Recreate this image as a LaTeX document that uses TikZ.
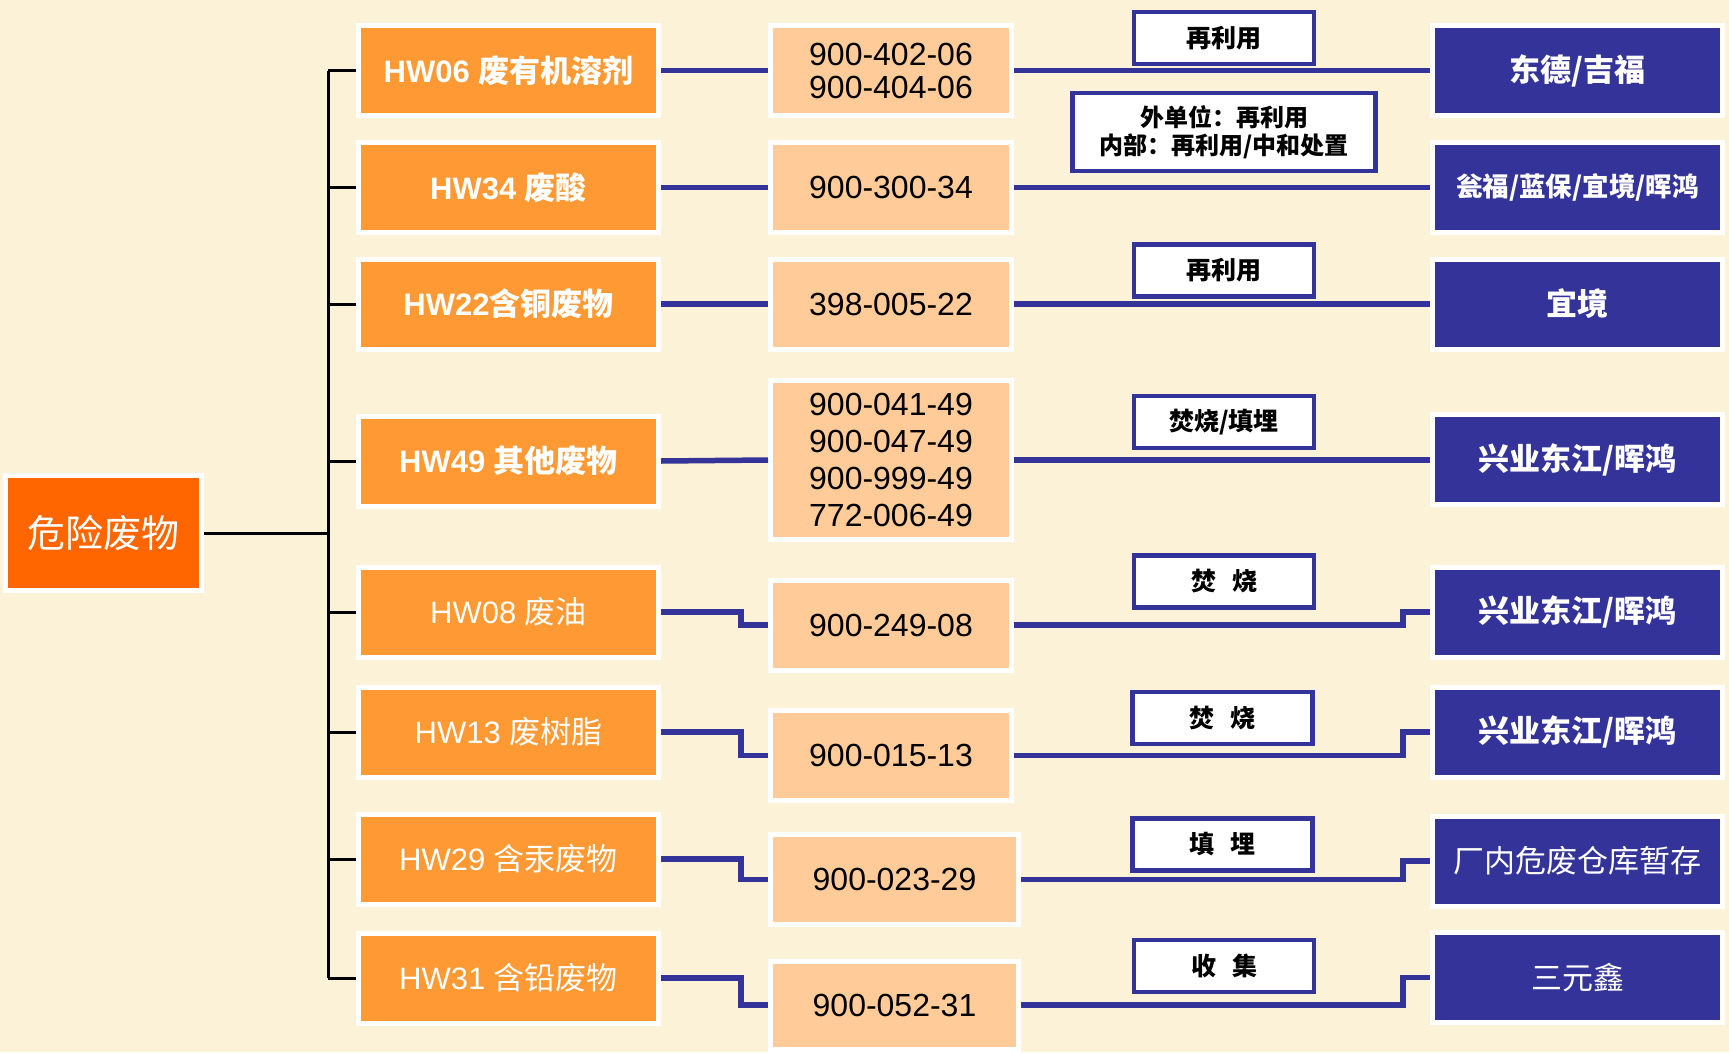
\documentclass[tikz,border=0pt]{standalone}
\usepackage{fontspec}
\setmainfont{Liberation Sans}
\newfontfamily\cjk{Noto Sans CJK SC}
\usetikzlibrary{calc}
\definecolor{bg}{RGB}{252,242,216}
\definecolor{rootor}{RGB}{255,102,0}
\definecolor{hwor}{RGB}{255,153,51}
\definecolor{codeor}{RGB}{255,204,153}
\definecolor{navy}{RGB}{51,51,153}
\begin{document}
\begin{tikzpicture}[x=1pt,y=-1pt,
  box/.style={draw=white, line width=5pt, inner sep=0pt, align=center},
  rootbox/.style={box, fill=rootor, text=white, minimum width=196pt, minimum height=115pt, font=\fontsize{38}{44}\selectfont},
  hwbox/.style={box, fill=hwor, text=white, minimum width=300pt, minimum height=90pt, font=\fontsize{31}{36}\selectfont},
  codebox/.style={box, fill=codeor, text=black, minimum width=241pt, minimum height=90pt, font=\fontsize{32}{33}\selectfont},
  destbox/.style={box, fill=navy, text=white, minimum width=290pt, minimum height=90pt, font=\fontsize{31}{36}\selectfont},
  tagbox/.style={draw=navy, line width=4.5pt, fill=white, inner sep=0pt, align=center, minimum width=180pt, minimum height=52pt, font=\fontsize{25}{28}\selectfont\cjk\bfseries},
  trunk/.style={draw=black, line width=3pt},
  link/.style={draw=navy, line width=5.5pt},
]
\useasboundingbox (0,0) rectangle (1729,1052);
\fill[bg] (0,0) rectangle (1729,1052);

% root
\node[rootbox] (root) at (103.5,533) {\cjk 危险废物};

% hazardous waste categories
\node[hwbox, font=\fontsize{31}{36}\selectfont\bfseries] (h1) at (508.5,70.5) {HW06 {\cjk 废有机溶剂}};
\node[hwbox, font=\fontsize{31}{36}\selectfont\bfseries] (h2) at (508.5,187.5) {HW34 {\cjk 废酸}};
\node[hwbox, font=\fontsize{31}{36}\selectfont\bfseries] (h3) at (508.5,304) {HW22{\cjk 含铜废物}};
\node[hwbox, font=\fontsize{31}{36}\selectfont\bfseries] (h4) at (508.5,461) {HW49 {\cjk 其他废物}};
\node[hwbox] (h5) at (508.5,612) {HW08 {\cjk 废油}};
\node[hwbox] (h6) at (508.5,732) {HW13 {\cjk 废树脂}};
\node[hwbox] (h7) at (508.5,859) {HW29 {\cjk 含汞废物}};
\node[hwbox] (h8) at (508.5,978) {HW31 {\cjk 含铅废物}};

% codes
\node[codebox] (c1) at (891,70.5) {900-402-06\\900-404-06};
\node[codebox] (c2) at (891,187.5) {900-300-34};
\node[codebox] (c3) at (891,304) {398-005-22};
\node[codebox, minimum height=159pt, font=\fontsize{32}{37}\selectfont] (c4) at (891,460) {900-041-49\\900-047-49\\900-999-49\\772-006-49};
\node[codebox] (c5) at (891,625) {900-249-08};
\node[codebox] (c6) at (891,755.5) {900-015-13};
\node[codebox, minimum width=248pt] (c7) at (894.5,879.5) {900-023-29};
\node[codebox, minimum width=248pt, minimum height=88pt] (c8) at (894.5,1005) {900-052-31};

% destinations
\node[destbox, font=\fontsize{31}{36}\selectfont\cjk\bfseries] (r1) at (1577.5,70.5) {东德/吉福};
\node[destbox, font=\fontsize{26.5}{30}\selectfont\cjk\bfseries] (r2) at (1577.5,187.5) {瓮福/蓝保/宜境/晖鸿};
\node[destbox, font=\fontsize{31}{36}\selectfont\cjk\bfseries] (r3) at (1577.5,304) {宜境};
\node[destbox, font=\fontsize{31}{36}\selectfont\cjk\bfseries] (r4) at (1577.5,459.5) {兴业东江/晖鸿};
\node[destbox, font=\fontsize{31}{36}\selectfont\cjk\bfseries] (r5) at (1577.5,612) {兴业东江/晖鸿};
\node[destbox, font=\fontsize{31}{36}\selectfont\cjk\bfseries] (r6) at (1577.5,732) {兴业东江/晖鸿};
\node[destbox, font=\fontsize{31}{36}\selectfont\cjk] (r7) at (1577.5,861) {厂内危废仓库暂存};
\node[destbox, font=\fontsize{31}{36}\selectfont\cjk] (r8) at (1577.5,977.5) {三元鑫};

% treatment tags
\node[tagbox] (t1) at (1224,38) {再利用};
\node[tagbox, minimum width=303pt, minimum height=78pt, font=\fontsize{24}{28}\selectfont\cjk\bfseries] (t2) at (1224,132) {外单位：再利用\\内部：再利用/中和处置};
\node[tagbox] (t3) at (1224,270.5) {再利用};
\node[tagbox] (t4) at (1224,422) {焚烧/填埋};
\node[tagbox] (t5) at (1224,581.5) {焚\hspace{16pt}烧};
\node[tagbox] (t6) at (1222.5,718) {焚\hspace{16pt}烧};
\node[tagbox] (t7) at (1222.5,844.5) {填\hspace{16pt}埋};
\node[tagbox] (t8) at (1224,966) {收\hspace{16pt}集};

% trunk
\coordinate (tk) at (328,0);
\draw[trunk] (root.east) -- (root.east -| tk);
\draw[trunk] (h1.west -| tk) -- (h8.west -| tk);
\foreach \i in {1,...,8} { \draw[trunk] (h\i.west) -- (h\i.west -| tk); }

% category -> code
\foreach \i in {1,...,4} { \draw[link] (h\i.east) -- (c\i.west); }
\foreach \i in {5,...,8} { \draw[link] (h\i.east) -- ++(80,0) |- (c\i.west); }

% code -> destination
\foreach \i in {1,...,4} { \draw[link] (c\i.east) -- (c\i.east -| r\i.west); }
\foreach \i in {5,...,8} { \draw[link] (r\i.west) -- ++(-27,0) |- (c\i.east); }
\end{tikzpicture}
\end{document}
